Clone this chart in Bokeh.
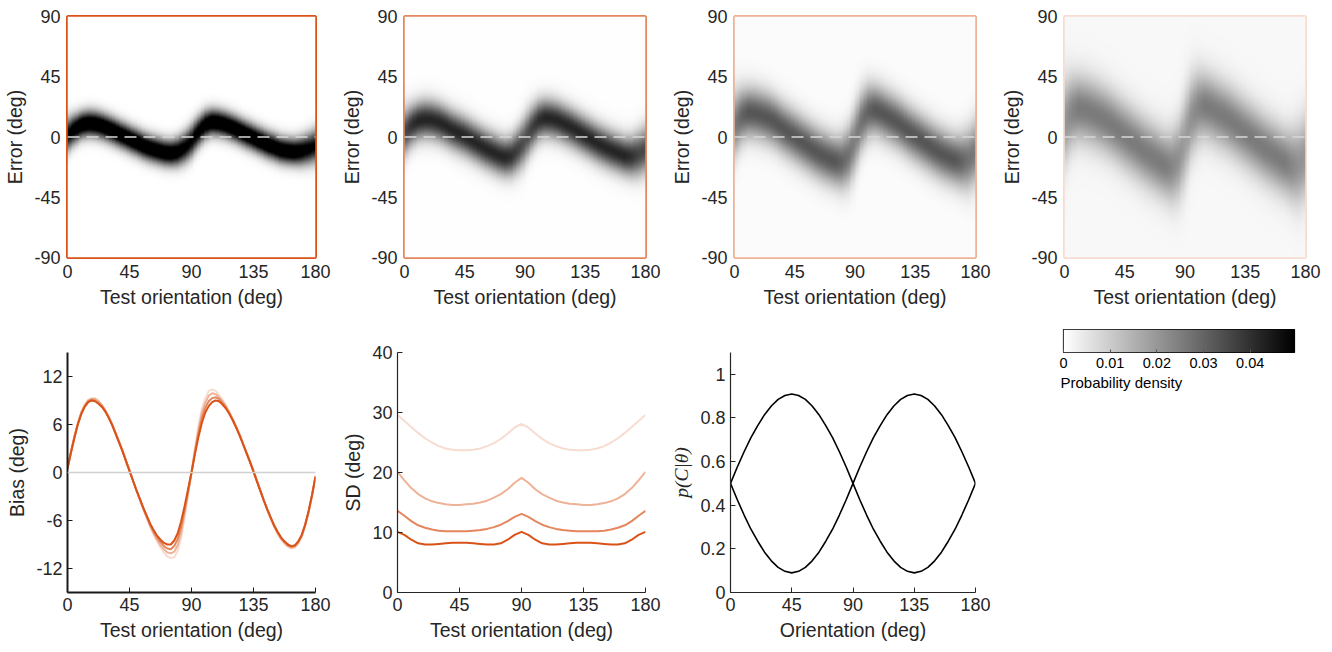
import numpy as np
from bokeh.plotting import figure
from bokeh.models import Range1d, FixedTicker, LinearColorMapper, Span, Title, CustomJSTickFormatter
from bokeh.layouts import column, row
from bokeh.embed import file_html
from bokeh.resources import INLINE

# ---------------- data ----------------
theta = list(range(0, 181, 5))
theta_bias = [i * 2.5 for i in range(73)]
orient_ticks = [0, 45, 90, 135, 180]
error_ticks = [-90, -45, 0, 45, 90]
bias_ticks = [-12, -6, 0, 6, 12]
sd_ticks = [0, 10, 20, 30, 40]
p_ticks = [0, 0.2, 0.4, 0.6, 0.8, 1.0]
cbar_ticks = [0, 0.01, 0.02, 0.03, 0.04]
density_max = 0.0495

panel_colors = ["#D95319", "#E4875E", "#EEB297", "#F7DDD1"]

# bias curves (deg) on a 2.5 deg grid, darkest -> lightest
bias_1 = [0.5, 2.5, 4.3, 6.0, 7.3, 8.2, 8.8, 9.0, 8.9, 8.6, 8.2, 7.6, 6.8, 5.9, 4.8, 3.7, 2.6, 1.4, 0.2,
          -1.0, -2.2, -3.3, -4.4, -5.4, -6.4, -7.2, -7.9, -8.4, -8.8, -9.0, -9.0, -8.5, -7.6, -6.1, -4.2, -2.1, 0.0,
          2.3, 4.4, 6.2, 7.5, 8.3, 8.8, 9.0, 8.9, 8.5, 8.0, 7.3, 6.5, 5.6, 4.6, 3.5, 2.4, 1.3, 0.1,
          -1.1, -2.3, -3.5, -4.6, -5.6, -6.6, -7.4, -8.1, -8.6, -9.0, -9.2, -9.1, -8.6, -7.8, -6.5, -4.8, -2.8, -0.5]
bias_2 = [0.5, 2.5, 4.4, 6.1, 7.4, 8.3, 8.9, 9.1, 9.0, 8.7, 8.3, 7.7, 6.9, 5.9, 4.9, 3.8, 2.7, 1.4, 0.2,
          -1.0, -2.2, -3.3, -4.5, -5.5, -6.5, -7.4, -8.1, -8.7, -9.2, -9.5, -9.6, -9.2, -8.3, -6.8, -4.7, -2.4, 0.0,
          2.5, 4.9, 6.8, 8.1, 8.9, 9.3, 9.4, 9.2, 8.7, 8.1, 7.4, 6.6, 5.6, 4.6, 3.5, 2.4, 1.3, 0.1,
          -1.1, -2.3, -3.5, -4.6, -5.7, -6.7, -7.5, -8.2, -8.7, -9.1, -9.3, -9.2, -8.7, -7.9, -6.6, -4.9, -2.8, -0.5]
bias_3 = [0.6, 2.6, 4.5, 6.1, 7.5, 8.4, 9.0, 9.2, 9.2, 8.9, 8.4, 7.7, 6.9, 6.0, 4.9, 3.8, 2.7, 1.5, 0.3,
          -1.0, -2.2, -3.4, -4.5, -5.6, -6.7, -7.6, -8.4, -9.1, -9.6, -10.0, -10.1, -9.9, -9.1, -7.5, -5.1, -2.6, 0.0,
          2.8, 5.3, 7.4, 8.7, 9.6, 9.9, 9.8, 9.4, 8.9, 8.3, 7.5, 6.6, 5.7, 4.7, 3.6, 2.5, 1.4, 0.2,
          -1.0, -2.3, -3.5, -4.7, -5.7, -6.7, -7.6, -8.3, -8.8, -9.2, -9.4, -9.3, -8.8, -8.0, -6.6, -4.9, -2.9, -0.6]
bias_4 = [0.6, 2.6, 4.6, 6.2, 7.6, 8.5, 9.1, 9.3, 9.3, 9.0, 8.5, 7.8, 7.0, 6.0, 5.0, 3.9, 2.8, 1.5, 0.3,
          -1.0, -2.2, -3.4, -4.6, -5.7, -6.8, -7.8, -8.6, -9.4, -10.0, -10.5, -10.7, -10.6, -9.8, -8.2, -5.6, -2.9, 0.0,
          3.0, 5.8, 8.0, 9.3, 10.2, 10.4, 10.2, 9.7, 9.1, 8.4, 7.6, 6.7, 5.7, 4.7, 3.6, 2.5, 1.4, 0.2,
          -1.0, -2.3, -3.5, -4.7, -5.8, -6.8, -7.7, -8.4, -8.9, -9.3, -9.5, -9.4, -8.9, -8.1, -6.7, -5.0, -2.9, -0.6]

# SD curves (deg), darkest -> lightest
sd_1 = [10.1, 9.6, 8.8, 8.2, 8.0, 8.0, 8.1, 8.2, 8.3, 8.3, 8.3, 8.2, 8.1, 8.0, 8.0, 8.2, 8.8, 9.6, 10.1,
        9.6, 8.8, 8.2, 8.0, 8.0, 8.1, 8.2, 8.3, 8.3, 8.3, 8.2, 8.1, 8.0, 8.0, 8.2, 8.8, 9.6, 10.1]
sd_2 = [13.6, 12.8, 11.9, 11.2, 10.8, 10.5, 10.3, 10.2, 10.2, 10.2, 10.2, 10.3, 10.4, 10.6, 10.9, 11.3, 11.9, 12.6, 13.1,
        12.6, 11.9, 11.3, 10.9, 10.6, 10.4, 10.3, 10.2, 10.2, 10.2, 10.2, 10.3, 10.5, 10.8, 11.2, 11.9, 12.8, 13.6]
sd_3 = [20.1, 18.7, 17.4, 16.4, 15.7, 15.2, 14.9, 14.7, 14.6, 14.6, 14.7, 14.8, 15.0, 15.3, 15.8, 16.4, 17.2, 18.3, 19.1,
        18.3, 17.2, 16.4, 15.8, 15.3, 15.0, 14.8, 14.7, 14.6, 14.6, 14.7, 14.9, 15.2, 15.7, 16.4, 17.4, 18.7, 20.1]
sd_4 = [29.6, 28.6, 27.6, 26.6, 25.7, 25.0, 24.4, 24.0, 23.8, 23.7, 23.7, 23.8, 24.0, 24.4, 24.9, 25.6, 26.5, 27.5, 28.1,
        27.5, 26.5, 25.6, 24.9, 24.4, 24.0, 23.8, 23.7, 23.7, 23.8, 24.0, 24.4, 25.0, 25.7, 26.6, 27.6, 28.6, 29.6]

# p(C|theta)
p_cat_a = [0.5, 0.575, 0.645, 0.71, 0.765, 0.815, 0.855, 0.885, 0.903, 0.91, 0.903, 0.885, 0.855, 0.815, 0.765, 0.71, 0.645, 0.575, 0.5,
           0.425, 0.355, 0.29, 0.235, 0.185, 0.145, 0.115, 0.097, 0.09, 0.097, 0.115, 0.145, 0.185, 0.235, 0.29, 0.355, 0.425, 0.5]
p_cat_b = [0.5, 0.425, 0.355, 0.29, 0.235, 0.185, 0.145, 0.115, 0.097, 0.09, 0.097, 0.115, 0.145, 0.185, 0.235, 0.29, 0.355, 0.425, 0.5,
           0.575, 0.645, 0.71, 0.765, 0.815, 0.855, 0.885, 0.903, 0.91, 0.903, 0.885, 0.855, 0.815, 0.765, 0.71, 0.645, 0.575, 0.5]

# heat-map bands: centre of error band (deg), band width (deg), background floor
band_center_1 = [2, 6, 9, 10, 9.5, 8, 6, 3.5, 1, -1.5, -4, -6.5, -8.5, -10, -11.5, -12, -11, -8, -3,
                 4, 9, 11, 10.5, 9, 7, 4.5, 2, -0.5, -3, -5.5, -7.5, -9.5, -10.5, -11, -10.5, -9, -7]
band_center_2 = [4, 9, 12, 13, 12.5, 11, 8.5, 5.5, 3, 0.5, -2.5, -5.5, -8.5, -11, -13.5, -15, -14, -9, -2,
                 6, 12, 14, 13.5, 12, 9.5, 7, 4, 1, -2, -5, -7.5, -10, -12, -14, -14.5, -13, -10]
band_center_3 = [10, 16, 18, 17.5, 16, 14, 11, 7, 3.5, 0, -3.5, -7, -10.5, -13.5, -16, -18, -18.5, -14, -2,
                 12, 19, 20, 18, 15, 12, 8.5, 4.5, 1, -2.5, -6, -9.5, -12.5, -15, -17, -18, -17, -12]
band_center_4 = [12, 19, 21, 20, 18, 15.5, 12.5, 9, 5, 1, -3, -7, -11, -14.5, -18, -21, -22, -17, -2,
                 15, 22, 23, 21, 18, 15, 11.5, 7.5, 3.5, -0.5, -4.5, -8.5, -12, -15.5, -18.5, -21, -21, -16]
band_width_1 = [8, 7, 6.5, 6.5, 6.5, 6.5, 6.5, 6.5, 6.5, 6.5, 6.5, 6.5, 6.5, 6.5, 6.5, 6.5, 7, 7.5, 8,
                7.5, 7, 6.5, 6.5, 6.5, 6.5, 6.5, 6.5, 6.5, 6.5, 6.5, 6.5, 6.5, 6.5, 6.5, 7, 7.5, 8]
band_width_2 = [11.5, 10, 9.5, 9.5, 9.5, 9.5, 9.5, 9.5, 9.5, 9.5, 9.5, 9.5, 9.5, 9.5, 9.5, 9.5, 10, 11, 12,
                11, 10, 9.5, 9.5, 9.5, 9.5, 9.5, 9.5, 9.5, 9.5, 9.5, 9.5, 9.5, 9.5, 9.5, 10, 11, 11.5]
band_width_3 = [16, 13.5, 12.5, 12.5, 12.5, 12.5, 12.5, 12.5, 12.5, 12.5, 12.5, 12.5, 12.5, 12.5, 12.5, 12.5, 13.5, 15, 17,
                15, 13.5, 12.5, 12.5, 12.5, 12.5, 12.5, 12.5, 12.5, 12.5, 12.5, 12.5, 12.5, 12.5, 12.5, 13.5, 15, 16]
band_width_4 = [21, 18, 16.5, 16.5, 16.5, 16.5, 16.5, 16.5, 16.5, 16.5, 16.5, 16.5, 16.5, 16.5, 16.5, 16.5, 18, 20, 23,
                20, 18, 16.5, 16.5, 16.5, 16.5, 16.5, 16.5, 16.5, 16.5, 16.5, 16.5, 16.5, 16.5, 16.5, 18, 20, 21]
band_floor = [0.0, 0.0003, 0.0008, 0.0015]

# ---------------- styling helpers ----------------
FONT = "Liberation Sans"
TXT = "#262626"
W, H_TOP, H_BOT = 330, 318, 325
PAD = 8  # page offset applied to first row / first column

gray_pal = ["#%02x%02x%02x" % (v, v, v) for v in range(255, -1, -1)]
mapper = LinearColorMapper(palette=gray_pal, low=0, high=density_max)
plain_fmt = CustomJSTickFormatter(code="return tick.toString();")


def style_axes(p, xlabel, ylabel, xticks, yticks, ylabel_font=FONT, ylabel_style="normal"):
    p.xaxis.ticker = FixedTicker(ticks=xticks)
    p.yaxis.ticker = FixedTicker(ticks=yticks)
    for ax in (p.xaxis, p.yaxis):
        ax.major_label_text_font = FONT
        ax.major_label_text_font_size = "18px"
        ax.major_label_text_color = TXT
        ax.axis_label_text_font = FONT
        ax.axis_label_text_font_size = "19.5px"
        ax.axis_label_text_font_style = "normal"
        ax.axis_label_text_color = TXT
        ax.minor_tick_line_color = None
        ax.major_label_standoff = 5
        ax.axis_label_standoff = 5
        ax.formatter = plain_fmt
    p.xaxis.axis_label = xlabel
    p.yaxis.axis_label = ylabel
    p.yaxis.axis_label_text_font = ylabel_font
    p.yaxis.axis_label_text_font_style = ylabel_style
    p.xgrid.visible = False
    p.ygrid.visible = False


top = []
centers = [band_center_1, band_center_2, band_center_3, band_center_4]
widths = [band_width_1, band_width_2, band_width_3, band_width_4]
th_f = np.arange(0, 180.5, 1.0)
er_f = np.arange(-90, 90.25, 0.5)
for i in range(4):
    extra = PAD if i == 0 else 0
    p = figure(width=W + extra, height=H_TOP, x_range=Range1d(0, 180), y_range=Range1d(-90, 90),
               output_backend="svg", toolbar_location=None,
               min_border_left=59 + extra, min_border_right=23, min_border_top=8 + PAD, min_border_bottom=61)
    c = np.interp(th_f, theta, centers[i])
    w = np.interp(th_f, theta, widths[i])
    dens = band_floor[i] + np.exp(-(er_f[:, None] - c[None, :]) ** 2 / (2 * w[None, :] ** 2)) / (np.sqrt(2 * np.pi) * w[None, :])
    p.image(image=[dens], x=0, y=-90, dw=180, dh=180, color_mapper=mapper)
    p.add_layout(Span(location=0, dimension="width", line_color="#d8d8d8", line_dash="12 7", line_width=1.5))
    style_axes(p, "Test orientation (deg)", "Error (deg)", orient_ticks, error_ticks)
    for ax in (p.xaxis, p.yaxis):
        ax.axis_line_color = None
        ax.major_tick_line_color = None
        ax.major_tick_in = 0
        ax.major_tick_out = 0
        ax.major_label_standoff = 7
    p.outline_line_color = panel_colors[i]
    p.outline_line_width = 3
    p.outline_line_alpha = 1.0
    top.append(p)


def bottom_fig(yr, extra=0):
    p = figure(width=W + extra, height=H_BOT, x_range=Range1d(0, 180), y_range=Range1d(*yr),
               output_backend="svg", toolbar_location=None,
               min_border_left=59 + extra, min_border_right=23, min_border_top=34, min_border_bottom=50)
    p.outline_line_color = None
    return p


# Bias
pb = bottom_fig((-15, 15), extra=PAD)
pb.add_layout(Span(location=0, dimension="width", line_color="#d0d0d0", line_width=1.5))
for b, col in zip([bias_4, bias_3, bias_2, bias_1], panel_colors[::-1]):
    pb.line(theta_bias, b, line_color=col, line_width=2)
style_axes(pb, "Test orientation (deg)", "Bias (deg)", orient_ticks, bias_ticks)
for ax in (pb.xaxis, pb.yaxis):
    ax.axis_line_color = "#1a1a1a"
    ax.axis_line_width = 2
    ax.major_tick_line_color = "#1a1a1a"
    ax.major_tick_in = 5
    ax.major_tick_out = 0

# SD
ps = bottom_fig((0, 40))
for s, col in zip([sd_4, sd_3, sd_2, sd_1], panel_colors[::-1]):
    ps.line(theta, s, line_color=col, line_width=2)
style_axes(ps, "Test orientation (deg)", "SD (deg)", orient_ticks, sd_ticks)

# p(C|theta)
pp = bottom_fig((0, 1.1))
pp.line(theta, p_cat_a, line_color="black", line_width=1.6)
pp.line(theta, p_cat_b, line_color="black", line_width=1.6)
style_axes(pp, "Orientation (deg)", "p(C|θ)", orient_ticks, p_ticks,
           ylabel_font="Liberation Serif", ylabel_style="italic")
pp.yaxis.formatter = CustomJSTickFormatter(code="return tick.toFixed(1).replace(/\\.0$/, '');")

for p in (ps, pp):
    for ax in (p.xaxis, p.yaxis):
        ax.axis_line_color = TXT
        ax.axis_line_width = 1.2
        ax.major_tick_line_color = TXT
        ax.major_tick_in = 5
        ax.major_tick_out = 0

# colour bar
pc = figure(width=W, height=100, x_range=Range1d(0, density_max), y_range=Range1d(0, 1),
            output_backend="svg", toolbar_location=None, y_axis_type=None,
            min_border_left=65, min_border_right=34, min_border_top=11, min_border_bottom=66)
grad = np.linspace(0, density_max, 256).reshape(1, 256)
pc.image(image=[grad], x=0, y=0, dw=density_max, dh=1, color_mapper=mapper)
pc.outline_line_color = "black"
pc.outline_line_width = 1.2
pc.xgrid.visible = False
pc.ygrid.visible = False
pc.xaxis.ticker = FixedTicker(ticks=cbar_ticks)
pc.xaxis.formatter = CustomJSTickFormatter(code="return tick == 0 ? '0' : tick.toFixed(2);")
pc.xaxis.axis_line_color = None
pc.xaxis.major_tick_line_color = "#555555"
pc.xaxis.major_tick_in = 3
pc.xaxis.major_tick_out = 0
pc.xaxis.minor_tick_line_color = None
pc.xaxis.major_label_text_font = FONT
pc.xaxis.major_label_text_font_size = "14.5px"
pc.xaxis.major_label_text_color = "black"
pc.xaxis.major_label_standoff = 5
pc.add_layout(Title(text="Probability density", align="left", text_font=FONT, text_font_size="15px",
                    text_font_style="normal", text_color="black", offset=-3, standoff=2), "below")

layout = column(row(*top), row(pb, ps, pp, column(pc)))
open("out.html", "w").write(file_html(layout, INLINE))
